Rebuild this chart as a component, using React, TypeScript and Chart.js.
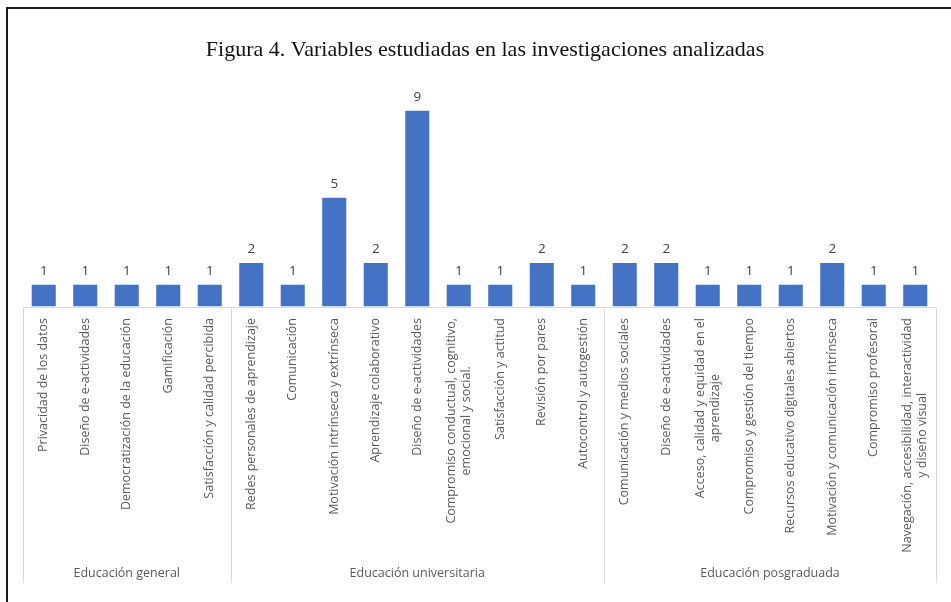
import React, { useEffect, useRef } from "react";
import { Chart, registerables } from "chart.js";

Chart.register(...registerables);

const TITLE = "Figura 4. Variables estudiadas en las investigaciones analizadas";

const categories: string[][] = [
  ["Privacidad de los datos"],
  ["Diseño de e-actividades"],
  ["Democratización de la educación"],
  ["Gamificación"],
  ["Satisfacción y calidad percibida"],
  ["Redes personales de aprendizaje"],
  ["Comunicación"],
  ["Motivación intrínseca y extrínseca"],
  ["Aprendizaje colaborativo"],
  ["Diseño de e-actividades"],
  ["Compromiso conductual, cognitivo,", "emocional y social."],
  ["Satisfacción y actitud"],
  ["Revisión por pares"],
  ["Autocontrol y autogestión"],
  ["Comunicación y medios sociales"],
  ["Diseño de e-actividades"],
  ["Acceso, calidad y equidad en el", "aprendizaje"],
  ["Compromiso y gestión del tiempo"],
  ["Recursos educativo digitales abiertos"],
  ["Motivación y comunicación intrínseca"],
  ["Compromiso profesoral"],
  ["Navegación, accesibilidad, interactividad", "y diseño visual"],
];

const values: number[] = [1, 1, 1, 1, 1, 2, 1, 5, 2, 9, 1, 1, 2, 1, 2, 2, 1, 1, 1, 2, 1, 1];

const groupNames: string[] = ["Educación general", "Educación universitaria", "Educación posgraduada"];
const groupSizes: number[] = [5, 9, 8];

const LABEL_FONT = "'Open Sans', sans-serif";

const overlay = {
  id: "overlay",
  afterDraw(chart: any) {
    const ctx = chart.ctx as CanvasRenderingContext2D;
    const xs = chart.scales.x;
    const area = chart.chartArea;
    const n = categories.length;
    const step = (xs.getPixelForValue(n - 1) - xs.getPixelForValue(0)) / (n - 1);
    const left = xs.getPixelForValue(0) - step / 2;
    const right = xs.getPixelForValue(n - 1) + step / 2;
    const axisY = Math.round(area.bottom) + 0.5;
    const bottomY = 583;

    ctx.save();
    // frame (top + left)
    ctx.strokeStyle = "#1a1a1a";
    ctx.lineWidth = 2;
    ctx.beginPath();
    ctx.moveTo(7, 602);
    ctx.lineTo(7, 8);
    ctx.lineTo(951, 8);
    ctx.stroke();

    // title
    ctx.fillStyle = "#111";
    ctx.font = "22px 'Liberation Serif', serif";
    ctx.textAlign = "center";
    ctx.textBaseline = "middle";
    ctx.fillText(TITLE, 485, 50);

    // axis line and group separators
    ctx.strokeStyle = "#d9d9d9";
    ctx.lineWidth = 1;
    ctx.beginPath();
    ctx.moveTo(left, axisY);
    ctx.lineTo(right, axisY);
    let idx = 0;
    const seps: number[] = [left];
    groupSizes.forEach((s) => {
      idx += s;
      seps.push(xs.getPixelForValue(idx - 1) + step / 2);
    });
    seps.forEach((sx) => {
      const px = Math.round(sx) + 0.5;
      ctx.moveTo(px, axisY);
      ctx.lineTo(px, bottomY);
    });
    ctx.stroke();

    // group labels
    ctx.fillStyle = "#595959";
    ctx.font = "12.5px " + LABEL_FONT;
    ctx.textAlign = "center";
    ctx.textBaseline = "middle";
    groupNames.forEach((g, i) => {
      ctx.fillText(g, (seps[i] + seps[i + 1]) / 2, 573);
    });

    // category labels (rotated)
    ctx.font = "12.5px " + LABEL_FONT;
    categories.forEach((lines, i) => {
      const cx = xs.getPixelForValue(i);
      ctx.save();
      ctx.translate(cx, 318);
      ctx.rotate(-Math.PI / 2);
      const w = Math.max(...lines.map((l) => ctx.measureText(l).width));
      const lh = 15;
      const y0 = -((lines.length - 1) * lh) / 2;
      ctx.textAlign = "center";
      ctx.textBaseline = "middle";
      lines.forEach((l, k) => {
        ctx.fillText(l, -w / 2, y0 + k * lh);
      });
      ctx.restore();
    });

    // value labels
    const meta = chart.getDatasetMeta(0);
    ctx.fillStyle = "#404040";
    ctx.font = "13.5px " + LABEL_FONT;
    ctx.textAlign = "center";
    ctx.textBaseline = "alphabetic";
    meta.data.forEach((bar: any, i: number) => {
      ctx.fillText(String(values[i]), bar.x, bar.y - 10);
    });
    ctx.restore();
  },
};

export default function App() {
  const ref = useRef<HTMLCanvasElement | null>(null);
  useEffect(() => {
    if (!ref.current) return;
    const chart = new Chart(ref.current, {
      type: "bar",
      data: {
        labels: categories.map((c) => c.join(" ")),
        datasets: [
          {
            data: values,
            backgroundColor: "#4472C4",
            borderWidth: 0,
            categoryPercentage: 1,
            barPercentage: 0.58,
          },
        ],
      },
      options: {
        animation: false,
        responsive: false,
        devicePixelRatio: 1,
        layout: { padding: { left: 23, right: 15, top: 89, bottom: 295.5 } },
        plugins: { legend: { display: false }, title: { display: false }, tooltip: { enabled: false } },
        scales: {
          x: { display: false, grid: { display: false } },
          y: { display: false, min: 0, max: 10 },
        },
      },
      plugins: [overlay],
    });
    return () => chart.destroy();
  }, []);
  return (
    <div style={{ position: "fixed", left: 0, top: 0, width: 951, height: 602, background: "#fff" }}>
      <canvas ref={ref} width={951} height={602} />
    </div>
  );
}
